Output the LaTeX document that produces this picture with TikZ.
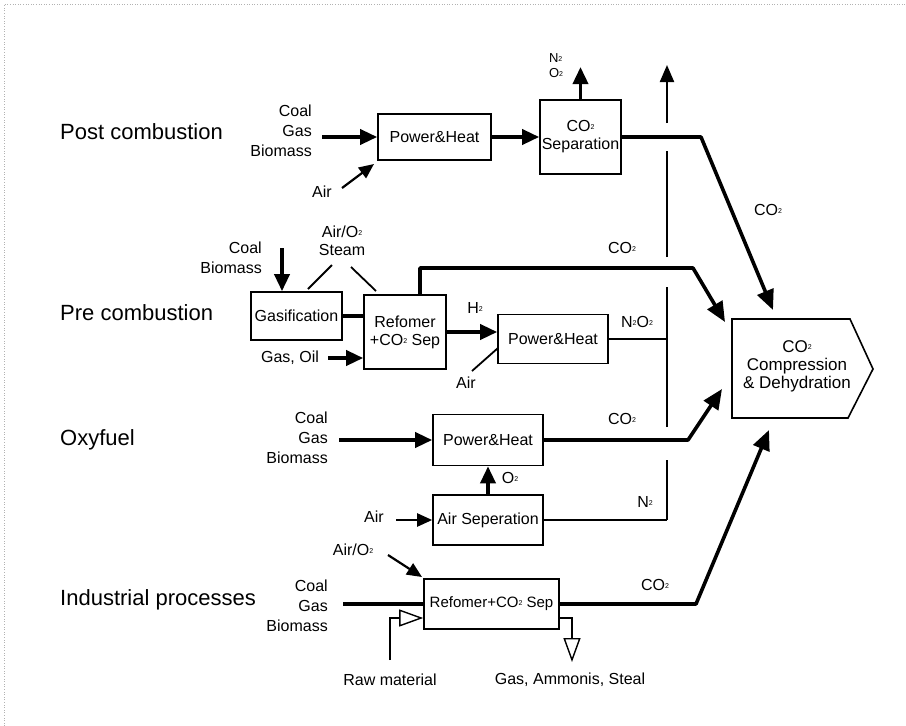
\documentclass[tikz,border=0pt]{standalone}
\usepackage{fontspec}
\setmainfont{Liberation Sans}
\usetikzlibrary{arrows.meta}
\newcommand{\ttwo}{\raisebox{0.25ex}{\fontsize{7}{7}\selectfont 2}}
\begin{document}
\begin{tikzpicture}[x=1pt,y=-1pt,
    box/.style={draw,line width=1.6pt,inner sep=0pt,align=center,font=\fontsize{16}{18}\selectfont},
    lbl/.style={inner sep=0pt,font=\fontsize{16}{20}\selectfont},
    title/.style={inner sep=0pt,anchor=west,font=\fontsize{22}{24}\selectfont},
    fat/.style={line width=3.6pt},
    fatarrow/.style={line width=3.6pt,-{Triangle[length=17pt,width=15pt]}},
    co2arrow/.style={line width=3.6pt,line join=round,-{Triangle[length=20pt,width=17pt]}},
    midarrow/.style={line width=2.2pt,-{Triangle[length=15pt,width=13pt]}},
    slim/.style={line width=1.8pt},
    hollow/.style={line width=1.4pt,-{Triangle[open,length=24pt,width=17pt]}}]
\useasboundingbox (0,0) rectangle (906,726);
% Scan edges
\draw[gray!60,dotted,line width=0.6pt] (4,726) -- (4,4) -- (906,4);

% Row titles
\node[title] (postT) at (60,132) {Post combustion};
\node[title] (preT) at (60,313) {Pre combustion};
\node[title] (oxyT) at (60,440) {Oxyfuel};
\node[title] (indT) at (60,600) {Industrial processes};

% Process boxes
\node[box,minimum width=113pt,minimum height=46pt] (ph1) at (434.5,137) {Power\&Heat};
\node[box,minimum width=81pt,minimum height=74pt] (sep) at (580.5,137) {CO\ttwo\\Separation};
\node[box,minimum width=91pt,minimum height=48pt] (gas) at (296.5,316) {Gasification};
\node[box,minimum width=82pt,minimum height=74pt] (ref) at (405,332) {Refomer\\+CO\ttwo{} Sep};
\node[box,minimum width=110pt,minimum height=49pt] (ph2) at (553,339) {Power\&Heat};
\node[box,minimum width=110pt,minimum height=51pt] (ph3) at (488,440) {Power\&Heat};
\node[box,minimum width=110pt,minimum height=50pt] (asep) at (488,520) {Air Seperation};
\node[box,minimum width=135pt,minimum height=50pt,font=\fontsize{15}{18}\selectfont] (ind) at (491.5,604) {Refomer+CO\ttwo{} Sep};

% Compression unit
\draw[line width=1.6pt,line join=miter] (732,319) -- (850,319) -- (873,369) -- (848,418) -- (732,418) -- cycle;
\node[lbl,align=center,font=\fontsize{17}{18}\selectfont] (comp) at (797,366) {CO\ttwo\\Compression\\\& Dehydration};

% Feed and product labels
\node[lbl,align=right,anchor=east] (fuel1) at (312,131) {Coal\\Gas\\Biomass};
\node[lbl] (air1) at (322,192) {Air};
\node[lbl,align=left,font=\fontsize{13}{15}\selectfont] (vent1) at (556,66) {N\ttwo\\O\ttwo};
\node[lbl] (co2a) at (768,210) {CO\ttwo};
\node[lbl,align=right,anchor=east] (fuel2) at (262,258) {Coal\\Biomass};
\node[lbl,align=center,font=\fontsize{16}{18}\selectfont] (steam) at (342,241) {Air/O\ttwo\\Steam};
\node[lbl] (co2b) at (622,248) {CO\ttwo};
\node[lbl] (h2) at (475,308) {H\ttwo};
\node[lbl] (gasoil) at (290,358) {Gas, Oil};
\node[lbl] (air2) at (466,383) {Air};
\node[lbl] (n2o2) at (637,322) {N\ttwo O\ttwo};
\node[lbl,align=right,anchor=east] (fuel3) at (328,438) {Coal\\Gas\\Biomass};
\node[lbl] (co2c) at (622,419) {CO\ttwo};
\node[lbl] (o2) at (510,478) {O\ttwo};
\node[lbl] (air3) at (374,517) {Air};
\node[lbl] (n2) at (645,502) {N\ttwo};
\node[lbl] (airo2) at (353,550) {Air/O\ttwo};
\node[lbl,align=right,anchor=east] (fuel4) at (328,606) {Coal\\Gas\\Biomass};
\node[lbl] (co2d) at (655,585) {CO\ttwo};
\node[lbl] (raw) at (390,680) {Raw material};
\node[lbl] (prod) at (570,680) {Gas, Ammonis, Steal};

% Free ends
\coordinate (f1o) at (322,137);
\coordinate (a1o) at (342,188);
\coordinate (a1i) at (374,164);
\coordinate (ventTop) at (580.5,67);
\coordinate (inPost) at (773,310);
\coordinate (f2o) at (282,248);
\coordinate (go) at (328,358);
\coordinate (r1) at (420,268);
\coordinate (inPre) at (725,322);
\coordinate (f3o) at (339,440);
\coordinate (a3o) at (396,520);
\coordinate (inOxy) at (722,389);
\coordinate (f4o) at (343,604);
\coordinate (ao4) at (388,555);
\coordinate (ao4i) at (422,577);
\coordinate (rawIn) at (390,660);
\coordinate (prodOut) at (572,662);
\coordinate (inInd) at (769,430);
\coordinate (stackBot) at (667,520);
\coordinate (stackTop) at (667,65);

% Post combustion
\draw[fatarrow] (f1o) -- (ph1.west);
\draw[midarrow] (a1o) -- (a1i);
\draw[fatarrow] (ph1.east) -- (sep.west);
\draw[fatarrow] (sep.north) -- (ventTop);
\draw[co2arrow] (sep.east) -- (701,137) -- (inPost);

% Pre combustion
\draw[fatarrow] (f2o) -- (f2o |- gas.north);
\draw[slim] (332,265) -- (308,289);
\draw[slim] (351,267) -- (376,291);
\draw[fat] (gas.east) -- (ref.west |- gas.east);
\draw[fatarrow] (go) -- (go -| ref.west);
\draw[co2arrow] (r1 |- ref.north) -- (r1) -- (693,268) -- (inPre);
\draw[fatarrow] (ref.east) -- (ref.east -| ph2.west);
\draw[slim] (472,371) -- (498,348);
\draw[slim] (ph2.east) -- (ph2.east -| stackBot);

% Oxyfuel
\draw[fatarrow] (f3o) -- (ph3.west);
\draw[fatarrow] (asep.north) -- (ph3.south);
\draw[midarrow] (a3o) -- (asep.west);
\draw[co2arrow] (ph3.east) -- (688,440) -- (inOxy);
\draw[slim] (asep.east) -- (stackBot);

% Industrial processes
\draw[fat] (f4o) -- (ind.west);
\draw[midarrow] (ao4) -- (ao4i);
\draw[hollow] (rawIn) |- ([yshift=-14pt]ind.west);
\draw[hollow] ([yshift=-14pt]ind.east) -| (prodOut);
\draw[co2arrow] (ind.east) -- (696,604) -- (inInd);

% Vent stack, broken where the CO2 lines cross
\draw[line width=2.2pt,-{Triangle[length=17pt,width=14pt]}] (stackBot) -- (667,460) (667,427) -- (667,287) (667,257) -- (667,151) (667,123) -- (stackTop);
\end{tikzpicture}
\end{document}
